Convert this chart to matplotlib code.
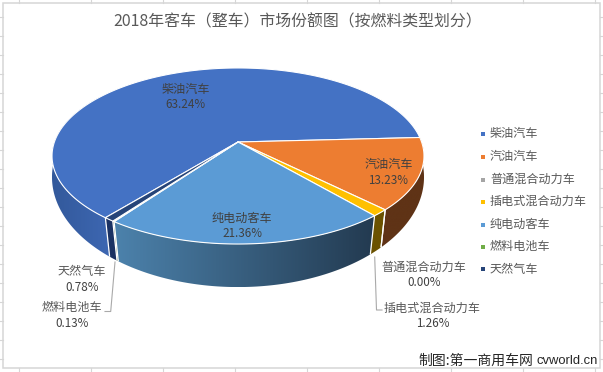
import numpy as np
import matplotlib
matplotlib.use("Agg")
import matplotlib.pyplot as plt
from matplotlib.colors import LinearSegmentedColormap
from matplotlib.patches import Polygon, Rectangle

plt.rcParams['font.family'] = ['Noto Sans CJK SC', 'DejaVu Sans']

title = "2018年客车（整车）市场份额图（按燃料类型划分）"
categories = ["柴油汽车", "汽油汽车", "普通混合动力车", "插电式混合动力车", "纯电动客车", "燃料电池车", "天然气车"]
shares = [63.24, 13.23, 0.00, 1.26, 21.36, 0.13, 0.78]
colors = ["#4472C4", "#ED7D31", "#A5A5A5", "#FFC000", "#5B9BD5", "#70AD47", "#264478"]
side_left = ["#33599B", "#5F3316", "#5A5A5A", "#6B5200", "#4C82AC", "#3D5F27", "#1B3263"]
side_right = ["#3D67B2", "#5F3316", "#5A5A5A", "#6B5200", "#233A50", "#3D5F27", "#1B3263"]
credit_cn = "制图:第一商用车网"
credit_en = "cvworld.cn"

W, H = 603, 372
fig = plt.figure(figsize=(W / 100, H / 100), dpi=100)
ax = fig.add_axes([0, 0, 1, 1])
ax.set_xlim(0, W)
ax.set_ylim(H, 0)
ax.axis("off")

# sheet grid peeking out around the chart frame
GRID = "#D6D6D6"
for yy in np.arange(16, 360, 19):
    ax.plot([0, 2.5], [yy + .5, yy + .5], color=GRID, lw=.8)
    ax.plot([599.5, 603], [yy + .5, yy + .5], color=GRID, lw=.8)
for xx in np.arange(18, 600, 72):
    ax.plot([xx + .5, xx + .5], [0, 2.5], color=GRID, lw=.8)
    ax.plot([xx + .5, xx + .5], [368, 372], color=GRID, lw=.8)
ax.add_patch(Rectangle((2.5, 2.5), 597, 365.5, fc="white", ec=GRID, lw=1.1))

# perspective projection of the pie disc: top face and lower rim
CX, CY = 238, 142
K, A, B = 0.159, 85.8, 183.6
K2, A2, B2, Y2 = 0.114, 108.6, 184.8, 164.5


def top(theta):
    t = np.radians(theta)
    u, v = np.cos(t), np.sin(t)
    d = 1 - K * v
    return CX + B * u / d, CY + A * v / d


def bottom(theta):
    t = np.radians(theta)
    u, v = np.cos(t), np.sin(t)
    d = 1 - K2 * v
    return CX + B2 * u / d, Y2 + A2 * v / d


START = 129.3
edges = START + np.cumsum([0] + shares) * 3.6

# visible walls, back to front
for i in range(len(shares)):
    a, b = edges[i], edges[i + 1]
    if shares[i] == 0:
        continue
    vis_a, vis_b = a, b
    if i == 0:
        vis_b = 215
    th = np.linspace(vis_a, vis_b, 160)
    tx, ty = top(th)
    bx, by = bottom(th)
    xy = np.column_stack([np.r_[tx, bx[::-1]], np.r_[ty, by[::-1]]])
    poly = Polygon(xy, closed=True, fc="none", ec="none", transform=ax.transData)
    ax.add_patch(poly)
    cmap = LinearSegmentedColormap.from_list("side", [side_left[i], side_right[i]])
    x0, x1 = xy[:, 0].min(), xy[:, 0].max()
    y0, y1 = xy[:, 1].min(), xy[:, 1].max()
    im = ax.imshow(np.linspace(0, 1, 256)[None, :], cmap=cmap, extent=(x0, x1, y1, y0),
                   aspect="auto", zorder=2, interpolation="bilinear")
    im.set_clip_path(poly)
ax.set_xlim(0, W)
ax.set_ylim(H, 0)

# white seams on the wall
for e in edges[:-1]:
    e = float(e)
    if np.sin(np.radians(e)) > 0.2:
        tx, ty = top(e)
        bx, by = bottom(e)
        ax.plot([tx, bx], [ty, by], color="white", lw=.9, zorder=3, solid_capstyle="butt")

# top faces
for i in range(len(shares)):
    if shares[i] == 0:
        continue
    th = np.linspace(edges[i], edges[i + 1], max(3, int(shares[i] * 8)))
    tx, ty = top(th)
    xy = np.column_stack([np.r_[CX, tx], np.r_[CY, ty]])
    ax.add_patch(Polygon(xy, closed=True, fc=colors[i], ec="white", lw=.8, zorder=4, joinstyle="round"))

# leader lines
LEAD = "#A9A9A9"
ax.plot([374.7, 376.5, 382], [257, 310, 310], color=LEAD, lw=.8, zorder=5)
ax.plot([115, 110.7, 105], [262, 311.5, 311.5], color=LEAD, lw=.8, zorder=5)

# title
ax.text(297.5, 22, title, ha="center", va="center", fontsize=11.45, color="#595959", zorder=6)

# data labels
DARK, MID = "#404040", "#595959"
label_pos = [(185.5, 89), (388.5, 164.5), (424, 267), (432.5, 308), (242, 218), (72, 308), (82, 271.5)]
inside = [True, True, False, False, True, False, False]
for cat, val, (lx, ly), ins in zip(categories, shares, label_pos, inside):
    ax.text(lx, ly, cat, ha="center", va="center", fontsize=8.7, color=DARK if ins else MID, zorder=6)
    ax.text(lx, ly + 15.7, f"{val:.2f}%", ha="center", va="center", fontsize=8.4, color=DARK, zorder=6)

# legend
leg_y = [134, 156.5, 179.5, 201.5, 224.5, 246.5, 269]
for cat, col, yy in zip(categories, colors, leg_y):
    ax.add_patch(Rectangle((481, yy - 1.8), 4, 4, fc=col, ec="none", zorder=6))
    ax.text(490, yy, cat, ha="left", va="center", fontsize=8.7, color=MID, zorder=6)

# credit
ax.text(533.5, 361, credit_cn, ha="right", va="center", fontsize=10, color="#262626", zorder=7)
ax.text(598, 361, credit_en, ha="right", va="center", fontsize=9.4, color="#262626",
        family="Liberation Sans", zorder=7)

fig.savefig("out.png", dpi=100)
